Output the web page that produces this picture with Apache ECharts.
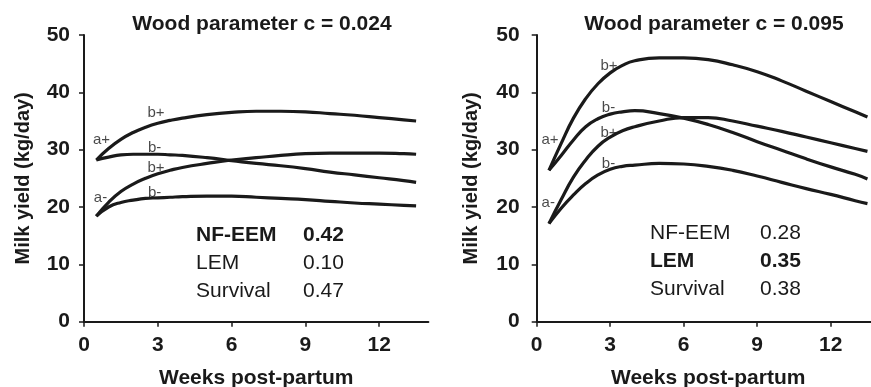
<!DOCTYPE html>
<html>
<head>
<meta charset="utf-8">
<script src="https://cdn.jsdelivr.net/npm/echarts@6/dist/echarts.min.js"></script>
<style>
  html, body { margin: 0; padding: 0; background: #fff; }
  #chart { width: 871px; height: 387px; }
</style>
</head>
<body>
<div id="chart"></div>
<script>
// weeks post-partum at which the curves were read
const weeks = [0.5, 1, 1.5, 2, 2.5, 3, 3.5, 4, 5, 6, 7, 8, 9, 10, 11, 12, 13, 13.5]

// c = 0.024
const leftAplusBplus = [28.2, 30.2, 31.8, 33.0, 33.9, 34.6, 35.1, 35.5, 36.1, 36.5, 36.7, 36.7, 36.6, 36.3, 36.0, 35.6, 35.2, 35.0]
const leftAplusBminus = [28.2, 28.7, 29.1, 29.2, 29.2, 29.2, 29.1, 29.0, 28.6, 28.1, 27.6, 27.2, 26.7, 26.1, 25.6, 25.1, 24.6, 24.3]
const leftAminusBplus = [18.4, 20.8, 22.7, 24.0, 25.0, 25.8, 26.4, 26.9, 27.6, 28.2, 28.6, 29.0, 29.3, 29.4, 29.4, 29.4, 29.3, 29.2]
const leftAminusBminus = [18.4, 20.0, 20.8, 21.2, 21.5, 21.6, 21.7, 21.8, 21.9, 21.9, 21.7, 21.5, 21.3, 21.0, 20.7, 20.5, 20.3, 20.2]

// c = 0.095
const rightAplusBplus = [26.4, 31.1, 35.5, 38.9, 41.5, 43.4, 44.7, 45.5, 46.0, 46.0, 45.7, 44.8, 43.6, 42.0, 40.2, 38.4, 36.6, 35.7]
const rightAplusBminus = [26.4, 29.0, 31.7, 34.0, 35.4, 36.2, 36.6, 36.8, 36.3, 35.5, 34.4, 33.0, 31.4, 29.9, 28.4, 27.0, 25.7, 24.9]
const rightAminusBplus = [17.1, 21.3, 25.2, 28.2, 30.6, 32.2, 33.3, 34.0, 35.0, 35.6, 35.6, 35.0, 34.1, 33.2, 32.2, 31.2, 30.2, 29.7]
const rightAminusBminus = [17.1, 19.8, 22.1, 24.1, 25.6, 26.6, 27.1, 27.3, 27.6, 27.5, 27.1, 26.4, 25.4, 24.3, 23.2, 22.2, 21.1, 20.6]

const titles = ['Wood parameter c = 0.024', 'Wood parameter c = 0.095']
const xTicks = [0, 3, 6, 9, 12]

// curve tags: [week, yield, text]
const leftTags = [[0.71, 31.7, 'a+'], [2.93, 36.5, 'b+'], [2.87, 30.3, 'b-'], [2.93, 26.9, 'b+'], [2.87, 22.5, 'b-'], [0.67, 21.6, 'a-']]
const rightTags = [[0.54, 31.7, 'a+'], [2.95, 44.7, 'b+'], [2.93, 37.3, 'b-'], [2.95, 33.0, 'b+'], [2.93, 27.6, 'b-'], [0.47, 20.8, 'a-']]

const models = ['NF-EEM', 'LEM', 'Survival']
const leftScores = ['0.42', '0.10', '0.47']
const rightScores = ['0.28', '0.35', '0.38']
const leftBest = 0
const rightBest = 1

const FONT = "'Liberation Sans', Arial, Helvetica, sans-serif"
const INK = '#1a1a1a'

const pairs = (vals) => weeks.map((w, i) => [w, vals[i]])

const xAxisFor = (idx) => ({
  type: 'value',
  gridIndex: idx,
  min: 0,
  max: 14,
  interval: 3,
  name: 'Weeks post-partum',
  nameLocation: 'middle',
  nameGap: 46,
  nameTextStyle: { fontFamily: FONT, fontWeight: 'bold', fontSize: 21, color: INK },
  splitLine: { show: false },
  axisLine: { onZero: false, lineStyle: { color: INK, width: 2 } },
  axisTick: { length: 5, lineStyle: { color: INK, width: 1.5 }, customValues: xTicks },
  axisLabel: { margin: 13, fontFamily: FONT, fontWeight: 'bold', fontSize: 21, color: INK, customValues: xTicks }
})

const yAxisFor = (idx, gap, margin) => ({
  type: 'value',
  gridIndex: idx,
  min: 0,
  max: 50,
  interval: 10,
  name: 'Milk yield (kg/day)',
  nameLocation: 'middle',
  nameGap: gap,
  nameTextStyle: { fontFamily: FONT, fontWeight: 'bold', fontSize: 20, color: INK },
  splitLine: { show: false },
  axisLine: { show: true, lineStyle: { color: INK, width: 2 } },
  axisTick: { show: true, length: 5, lineStyle: { color: INK, width: 1.5 } },
  axisLabel: { margin: margin, fontFamily: FONT, fontWeight: 'bold', fontSize: 21, color: INK }
})

const curve = (idx, vals) => ({
  type: 'line',
  xAxisIndex: idx,
  yAxisIndex: idx,
  data: pairs(vals),
  smooth: 0.5,
  showSymbol: false,
  silent: true,
  lineStyle: { color: INK, width: 3.2 }
})

const tagSeries = (idx, tags) => ({
  type: 'scatter',
  xAxisIndex: idx,
  yAxisIndex: idx,
  symbolSize: 0,
  silent: true,
  data: tags.map(t => ({ value: [t[0], t[1]], name: t[2] })),
  label: {
    show: true,
    position: 'inside',
    formatter: p => p.name,
    fontFamily: FONT,
    fontSize: 15,
    color: INK
  }
})

const table = (x1, x2, y0, scores, best) => {
  let out = []
  models.forEach((m, i) => {
    const weight = i === best ? 'bold' : 'normal'
    const y = y0 + i * 28
    out.push({ type: 'text', x: x1, y: y, style: { text: m, font: weight + ' 21px ' + FONT, fill: INK, verticalAlign: 'middle' } })
    out.push({ type: 'text', x: x2, y: y, style: { text: scores[i], font: weight + ' 21px ' + FONT, fill: INK, verticalAlign: 'middle' } })
  })
  return out
}

let chart = echarts.init(document.getElementById('chart'), null, { renderer: 'canvas' })
chart.setOption({
  backgroundColor: '#fff',
  animation: false,
  title: [
    { text: titles[0], left: 257, top: 9, textAlign: 'center', textStyle: { fontFamily: FONT, fontWeight: 'bold', fontSize: 21, color: INK } },
    { text: titles[1], left: 709, top: 9, textAlign: 'center', textStyle: { fontFamily: FONT, fontWeight: 'bold', fontSize: 21, color: INK } }
  ],
  grid: [
    { left: 84, top: 35, width: 344.4, height: 286.7, outerBoundsMode: 'none', containLabel: false },
    { left: 536.7, top: 35, width: 343, height: 286.7, outerBoundsMode: 'none', containLabel: false }
  ],
  xAxis: [xAxisFor(0), xAxisFor(1)],
  yAxis: [yAxisFor(0, 51, 14), yAxisFor(1, 55, 17)],
  series: [
    curve(0, leftAplusBplus),
    curve(0, leftAplusBminus),
    curve(0, leftAminusBplus),
    curve(0, leftAminusBminus),
    curve(1, rightAplusBplus),
    curve(1, rightAplusBminus),
    curve(1, rightAminusBplus),
    curve(1, rightAminusBminus),
    tagSeries(0, leftTags),
    tagSeries(1, rightTags)
  ],
  graphic: [
    ...table(196, 303, 235, leftScores, leftBest),
    ...table(650, 760, 233, rightScores, rightBest)
  ]
})
</script>
</body>
</html>
